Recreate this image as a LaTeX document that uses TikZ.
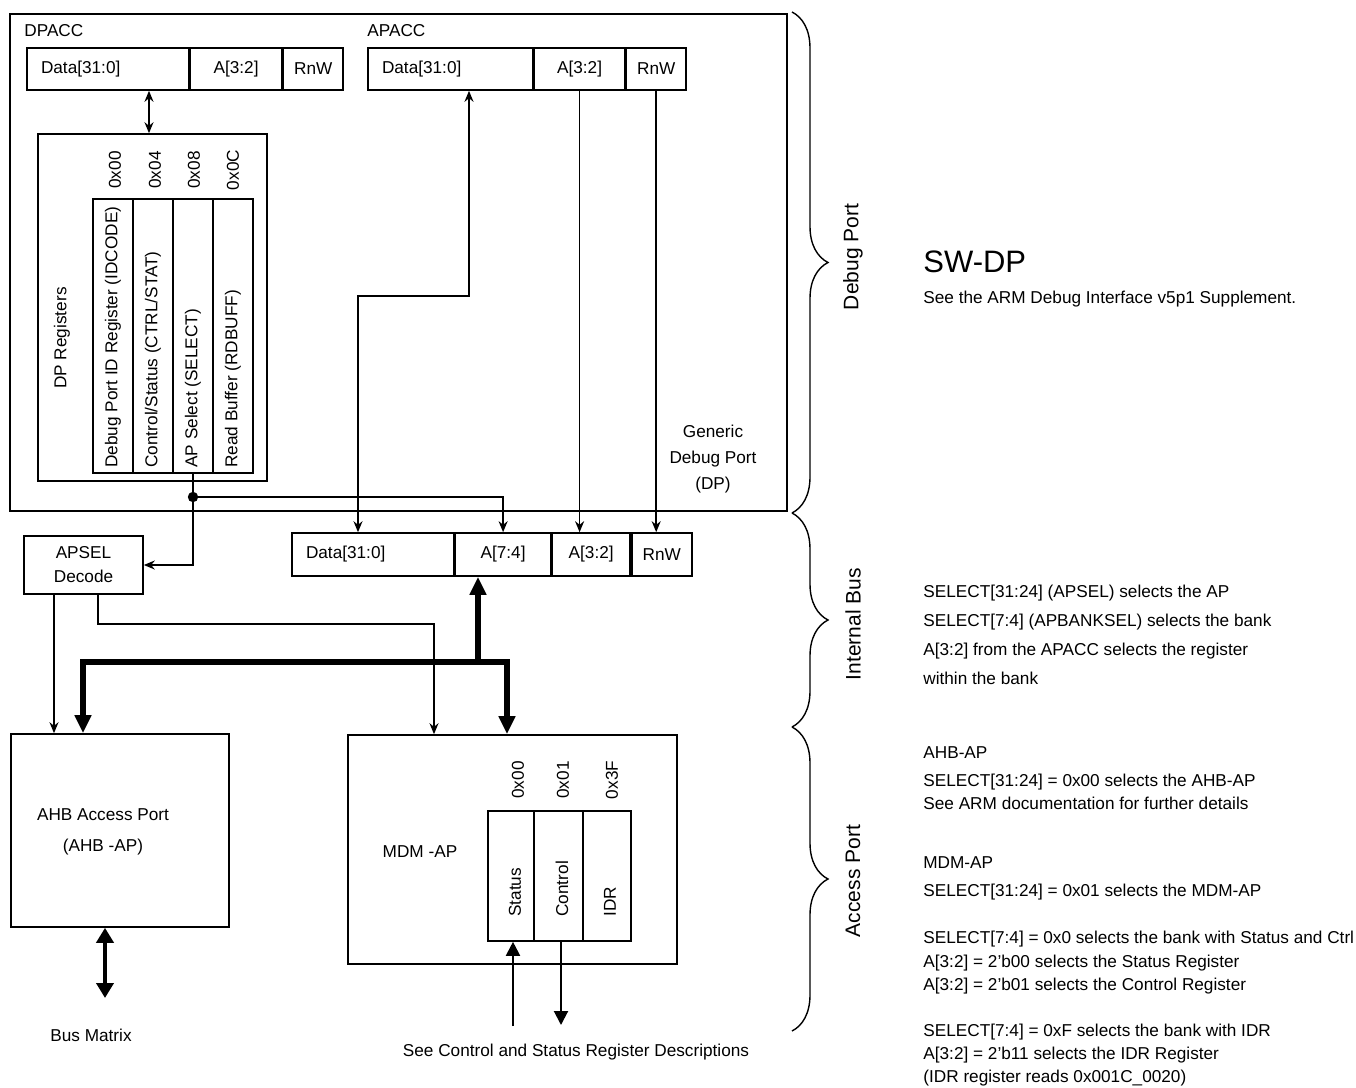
\documentclass[tikz,border=0pt]{standalone}
\usepackage{fontspec}
\setmainfont{Liberation Sans}
\usetikzlibrary{arrows.meta, decorations.pathreplacing, positioning}

\newcommand{\diagfont}{\fontsize{8.6pt}{12pt}\selectfont}

\tikzset{
  every node/.style={font=\diagfont},
  box/.style={draw, line width=0.8pt, inner sep=0pt},
  field/.style={box, minimum height=21pt},
  datafield/.style={field, inner xsep=7pt, text width=#1, align=left},
  reg/.style={box, minimum height=137pt, minimum width=20pt},
  mreg/.style={box, minimum height=65pt},
  txt/.style={inner sep=0pt},
  regname/.style={txt, rotate=90, anchor=west},
  addr/.style={txt, rotate=90},
  note/.style={txt, anchor=base west},
  sect/.style={txt, rotate=90, font=\fontsize{10.5pt}{12pt}\selectfont},
  wire/.style={line width=0.75pt, >={Stealth[length=5.5pt,width=4.5pt]}},
  mwire/.style={line width=1pt, >={Triangle[length=7pt,width=7pt]}},
  bus/.style={line width=2.6pt, line join=miter, >={Triangle[length=9pt,width=8pt]}},
  bigwire/.style={line width=2pt, >={Triangle[length=7.5pt,width=8.5pt]}},
  brace/.style={line width=0.7pt, decorate, decoration={brace, amplitude=18pt}}
}

\begin{document}
\begin{tikzpicture}[x=0.5pt, y=-0.5pt]

  \useasboundingbox (0,0) rectangle (1356,1088);

  % Generic debug port frame
  \node[box, minimum width=388.5pt, minimum height=248.5pt] (dp) at (398.5,262.5) {};
  \node[txt, anchor=west] (dpaccLbl) at (24,31) {DPACC};
  \node[txt, anchor=west] (apaccLbl) at (367,31) {APACC};

  % DPACC and APACC fields
  \node[datafield=67pt] (dpData) at (108,69) {Data[31:0]};
  \node[field, minimum width=45.5pt, right=0pt of dpData] (dpAddr) {A[3:2]};
  \node[field, minimum width=30pt, right=0pt of dpAddr] (dpRnW) {RnW};

  \node[datafield=68.5pt] (apData) at (450.5,69) {Data[31:0]};
  \node[field, minimum width=45pt, right=0pt of apData] (apAddr) {A[3:2]};
  \node[field, minimum width=30pt, right=0pt of apAddr] (apRnW) {RnW};

  % DP registers
  \node[box, minimum width=114.5pt, minimum height=173.5pt] (dpRegs) at (152.5,307.5) {};
  \node[txt, rotate=90] (dpRegsLbl) at (62,338) {DP Registers};

  \node[reg] (regId)   at (113,336) {};
  \node[reg] (regCtrl) at (153,336) {};
  \node[reg] (regSel)  at (193,336) {};
  \node[reg] (regBuf)  at (233,336) {};

  \node[regname] (regIdTxt)   at (113,468) {Debug Port ID Register (IDCODE)};
  \node[regname] (regCtrlTxt) at (153,468) {Control/Status (CTRL/STAT)};
  \node[regname] (regSelTxt)  at (193,468) {AP Select (SELECT)};
  \node[regname] (regBufTxt)  at (233,468) {Read Buffer (RDBUFF)};

  \node[addr] (adrId)   at (115,170) {0x00};
  \node[addr] (adrCtrl) at (155,170) {0x04};
  \node[addr] (adrSel)  at (194,170) {0x08};
  \node[addr] (adrBuf)  at (233,170) {0x0C};

  \node[txt, align=center, font=\fontsize{8.6pt}{13pt}\selectfont] (dpLbl) at (713,459)
    {Generic\\Debug Port\\(DP)};

  % Internal bus
  \node[datafield=67pt, minimum height=21.5pt] (ibData) at (373,554.5) {Data[31:0]};
  \node[field, minimum height=21.5pt, minimum width=47.5pt, right=0pt of ibData] (ibBank) {A[7:4]};
  \node[field, minimum height=21.5pt, minimum width=39pt, right=0pt of ibBank] (ibAddr) {A[3:2]};
  \node[field, minimum height=21.5pt, minimum width=30pt, right=0pt of ibAddr] (ibRnW) {RnW};

  \node[box, minimum width=59.5pt, minimum height=29pt, align=center] (apsel) at (83.5,565)
    {APSEL\\Decode};

  % Access ports
  \node[box, minimum width=109pt, minimum height=96.5pt] (ahb) at (120,830.5) {};
  \node[txt, align=center] (ahbLbl) at (103,832) {AHB Access Port\\[3.5pt](AHB -AP)};

  \node[box, minimum width=164.5pt, minimum height=114.5pt] (mdm) at (512.5,849.5) {};
  \node[txt] (mdmLbl) at (420,852) {MDM -AP};

  \node[mreg, minimum width=23pt]   (mStatus)  at (511,876) {};
  \node[mreg, minimum width=24.5pt] (mControl) at (558.5,876) {};
  \node[mreg, minimum width=24pt]   (mIdr)     at (607,876) {};

  \node[regname] (mStatusTxt)  at (515,917) {Status};
  \node[regname] (mControlTxt) at (562,917) {Control};
  \node[regname] (mIdrTxt)     at (610,917) {IDR};

  \node[addr] (adrStatus)  at (518,780) {0x00};
  \node[addr] (adrControl) at (563,780) {0x01};
  \node[addr] (adrIdr)     at (612,780) {0x3F};

  % Connectors
  \draw[wire,<->] (dpRegs.north -| 149,0) -- (dpData.south -| 149,0);

  \coordinate (jn) at (regSel.south |- 0,497);
  \draw[wire] (regSel.south) -- (jn);
  \fill (jn) circle[radius=2.6pt];
  \draw[wire,->] (jn) -| (ibBank.north);
  \draw[wire,->] (jn) |- (apsel.east);

  \draw[wire,<->] (apData.south -| 469,0) |- (358,296) -- (ibData.north -| 358,0);
  \draw[wire,->] (apAddr.south) -- (apAddr.south |- ibAddr.north);
  \draw[wire,->] (apRnW.south) -- (apRnW.south |- ibRnW.north);

  \draw[wire,->] (apsel.south -| 54,0) -- (ahb.north -| 54,0);
  \draw[wire,->] (apsel.south -| 98,0) |- (434,624) -- (mdm.north -| 434,0);

  \coordinate (busL) at (83,662);
  \coordinate (busR) at (507,662);
  \coordinate (busTap) at (478,662);
  \draw[bus,<->] (ahb.north -| busL) -- (busL) -- (busR) -- (mdm.north -| busR);
  \draw[bus,->] (busTap) -- (ibBank.south -| busTap);

  \coordinate (busMx) at (105,998);
  \draw[bigwire,<->] (ahb.south -| busMx) -- (busMx);
  \node[txt] (busMxLbl) at (91,1035) {Bus Matrix};

  \coordinate (statusIn) at (513,1026);
  \coordinate (controlOut) at (561,1025);
  \draw[mwire,->] (statusIn) -- (statusIn |- mStatus.south);
  \draw[mwire,->] (controlOut |- mControl.south) -- (controlOut);
  \node[txt] (seeRegs) at (576,1052) {See Control and Status Register Descriptions};

  % Braces and section names
  \draw[brace] (792,12) -- (792,513);
  \draw[brace] (792,513) -- (792,727);
  \draw[brace] (792,727) -- (792,1031);
  \node[sect] (secDebug)  at (853,257) {Debug Port};
  \node[sect] (secBus)    at (853,624) {Internal Bus};
  \node[sect] (secAccess) at (853,881) {Access Port};

  % Notes
  \node[note, font=\fontsize{15.5pt}{18pt}\selectfont] (swdp) at (923,272) {SW-DP};
  \node[note] (note1)  at (923,303) {See the ARM Debug Interface v5p1 Supplement.};
  \node[note] (note2)  at (923,597) {SELECT[31:24] (APSEL) selects the AP};
  \node[note] (note3)  at (923,626) {SELECT[7:4] (APBANKSEL) selects the bank};
  \node[note] (note4)  at (923,655) {A[3:2] from the APACC selects the register};
  \node[note] (note5)  at (923,684) {within the bank};
  \node[note] (note6)  at (923,758) {AHB-AP};
  \node[note] (note7)  at (923,786) {SELECT[31:24] = 0x00 selects the AHB-AP};
  \node[note] (note8)  at (923,809) {See ARM documentation for further details};
  \node[note] (note9)  at (923,868) {MDM-AP};
  \node[note] (note10) at (923,896) {SELECT[31:24] = 0x01 selects the MDM-AP};
  \node[note] (note11) at (923,943) {SELECT[7:4] = 0x0 selects the bank with Status and Ctrl};
  \node[note] (note12) at (923,967) {A[3:2] = 2’b00 selects the Status Register};
  \node[note] (note13) at (923,990) {A[3:2] = 2’b01 selects the Control Register};
  \node[note] (note14) at (923,1036) {SELECT[7:4] = 0xF selects the bank with IDR};
  \node[note] (note15) at (923,1059) {A[3:2] = 2’b11 selects the IDR Register};
  \node[note] (note16) at (923,1082) {(IDR register reads 0x001C\_0020)};

\end{tikzpicture}
\end{document}
